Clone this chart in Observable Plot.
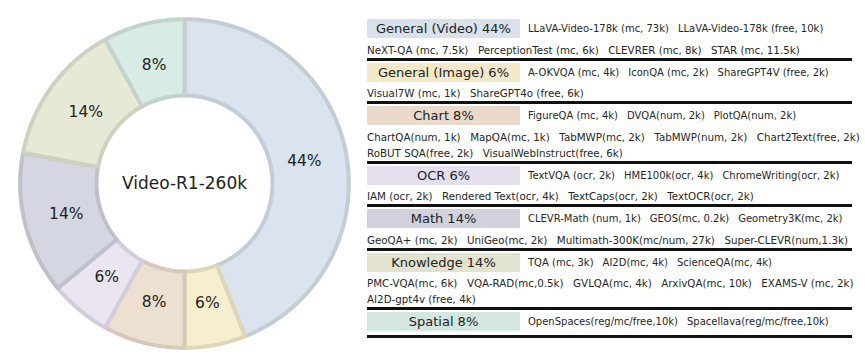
<!DOCTYPE html>
<html><head><meta charset="utf-8">
<script src="https://cdn.jsdelivr.net/npm/d3@7"></script>
<script src="https://cdn.jsdelivr.net/npm/@observablehq/plot@0.6"></script>
<style>
body{margin:0;background:#fff;font-family:"DejaVu Sans",sans-serif;}
#wrap{position:relative;width:865px;height:357px;overflow:hidden;background:#fff}
#pie{position:absolute;left:0;top:0}
#legend{position:absolute;left:367px;top:17px;width:485px;color:#262626}
.sec{padding-top:2px;border-bottom:3px solid #111;}
.sec.only{padding-bottom:4px}
.head{display:flex;align-items:center;height:19px;}
.box{width:153px;height:19px;line-height:19px;text-align:center;font-size:13px;color:#222;flex:none}
.items{margin-left:8px;white-space:nowrap;font-size:10px}
.item{margin-right:9px}
.rows{margin-top:3.5px;font-size:10.3px;line-height:16px;white-space:nowrap}
.rows .item{margin-right:9.5px}
</style></head><body><div id="wrap"><div id="pie"></div><div id="legend"></div></div>
<script>
const categories = ["General (Video)", "General (Image)", "Chart", "OCR", "Math", "Knowledge", "Spatial"];
const shares = [44, 6, 8, 6, 14, 14, 8];
const centerTitle = "Video-R1-260k";
const headlineItems = [
  ["LLaVA-Video-178k (mc, 73k)", "LLaVA-Video-178k (free, 10k)"],
  ["A-OKVQA (mc, 4k)", "IconQA (mc, 2k)", "ShareGPT4V (free, 2k)"],
  ["FigureQA (mc, 4k)", "DVQA(num, 2k)", "PlotQA(num, 2k)"],
  ["TextVQA (ocr, 2k)", "HME100k(ocr, 4k)", "ChromeWriting(ocr, 2k)"],
  ["CLEVR-Math (num, 1k)", "GEOS(mc, 0.2k)", "Geometry3K(mc, 2k)"],
  ["TQA (mc, 3k)", "AI2D(mc, 4k)", "ScienceQA(mc, 4k)"],
  ["OpenSpaces(reg/mc/free,10k)", "Spacellava(reg/mc/free,10k)"]
];
const moreItems = [
  [["NeXT-QA (mc, 7.5k)", "PerceptionTest (mc, 6k)", "CLEVRER (mc, 8k)", "STAR (mc, 11.5k)"]],
  [["Visual7W  (mc, 1k)", "ShareGPT4o (free, 6k)"]],
  [["ChartQA(num, 1k)", "MapQA(mc, 1k)", "TabMWP(mc, 2k)", "TabMWP(num, 2k)", "Chart2Text(free, 2k)"],
   ["RoBUT SQA(free, 2k)", "VisualWebInstruct(free, 6k)"]],
  [["IAM (ocr, 2k)", "Rendered Text(ocr, 4k)", "TextCaps(ocr, 2k)", "TextOCR(ocr, 2k)"]],
  [["GeoQA+ (mc, 2k)", "UniGeo(mc, 2k)", "Multimath-300K(mc/num, 27k)", "Super-CLEVR(num,1.3k)"]],
  [["PMC-VQA(mc, 6k)", "VQA-RAD(mc,0.5k)", "GVLQA(mc, 4k)", "ArxivQA(mc, 10k)", "EXAMS-V (mc, 2k)"],
   ["AI2D-gpt4v (free, 4k)"]],
  []
];
const sliceFill = ["#dbe3ee", "#f6efcf", "#eee0d1", "#eae5f1", "#d4d7e1", "#e6e9d5", "#d8ebe4"];
const boxFill   = ["#d9e1ec", "#f3e9c9", "#e9dacb", "#e5dfee", "#cfd2dc", "#e1e3cf", "#d3e6df"];

// ---- donut ----
const OUTER = 0.99, INNER = 0.53, LABEL_R = 0.735;
const arcs = d3.pie().sort(null).value(d => d)(shares);
const ring = [];
const slices = arcs.map((a, i) => {
  const cat = categories[i];
  const fill = sliceFill[i];
  const stroke = d3.color(fill).darker(0.3).formatHex();
  const n = Math.max(2, Math.ceil((a.endAngle - a.startAngle) / (Math.PI / 180)));
  const pts = [];
  for (let k = 0; k <= n; k++) {
    const t = a.startAngle + (a.endAngle - a.startAngle) * k / n;
    pts.push({x: OUTER * Math.sin(t), y: OUTER * Math.cos(t)});
  }
  for (let k = n; k >= 0; k--) {
    const t = a.startAngle + (a.endAngle - a.startAngle) * k / n;
    pts.push({x: INNER * Math.sin(t), y: INNER * Math.cos(t)});
  }
  pts.push(pts[0]);
  pts.forEach(p => ring.push({...p, cat, fill, stroke}));
  const m = (a.startAngle + a.endAngle) / 2;
  return {cat, label: shares[i] + "%", lx: LABEL_R * Math.sin(m), ly: LABEL_R * Math.cos(m)};
});

const chart = Plot.plot({
  width: 360, height: 357,
  marginLeft: 18, marginRight: 10, marginTop: 17, marginBottom: 8,
  x: {domain: [-1, 1], axis: null},
  y: {domain: [-1, 1], axis: null},
  color: {type: "identity"},
  style: {fontFamily: "DejaVu Sans, sans-serif", background: "#fff"},
  marks: [
    Plot.line(ring, {x: "x", y: "y", z: "cat", fill: "fill", stroke: "stroke", strokeWidth: 4, strokeLinejoin: "round", curve: "linear"}),
    Plot.text(slices, {x: "lx", y: "ly", text: "label", fontSize: 15.5, fill: "#222"}),
    Plot.text([centerTitle], {frameAnchor: "middle", text: d => d, fontSize: 17, fill: "#222"})
  ]
});
document.getElementById("pie").appendChild(chart);

// ---- legend table ----
const legend = document.getElementById("legend");
categories.forEach((cat, i) => {
  const sec = document.createElement("div");
  sec.className = "sec" + (moreItems[i].length ? "" : " only");
  const head = document.createElement("div");
  head.className = "head";
  const box = document.createElement("div");
  box.className = "box";
  box.style.background = boxFill[i];
  box.textContent = cat + " " + shares[i] + "%";
  head.appendChild(box);
  const items = document.createElement("div");
  items.className = "items";
  headlineItems[i].forEach(t => {
    const s = document.createElement("span");
    s.className = "item"; s.textContent = t; items.appendChild(s);
  });
  head.appendChild(items);
  sec.appendChild(head);
  if (moreItems[i].length) {
    const rows = document.createElement("div");
    rows.className = "rows";
    moreItems[i].forEach(line => {
      const r = document.createElement("div");
      line.forEach(t => {
        const s = document.createElement("span");
        s.className = "item"; s.textContent = t; r.appendChild(s);
      });
      rows.appendChild(r);
    });
    sec.appendChild(rows);
  }
  legend.appendChild(sec);
});
</script></body></html>
